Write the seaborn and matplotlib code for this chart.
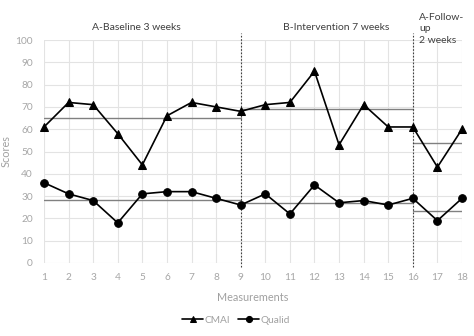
import numpy as np
import pandas as pd
import matplotlib
matplotlib.use("Agg")
import matplotlib.pyplot as plt
import seaborn as sns

# ---- data ----
measurements = list(range(1, 19))
cmai = [61, 72, 71, 58, 44, 66, 72, 70, 68, 71, 72, 86, 53, 71, 61, 61, 43, 60]
qualid = [36, 31, 28, 18, 31, 32, 32, 29, 26, 31, 22, 35, 27, 28, 26, 29, 19, 29]
phase_start = [1, 9, 16]
phase_end = [9, 16, 18]
cmai_phase_mean = [65, 69, 54]
qualid_phase_mean = [28.3, 26.8, 23.5]
phase_labels = ["A-Baseline 3 weeks", "B-Intervention 7 weeks", "A-Follow-\nup\n2 weeks"]
phase_breaks = [9, 16]

sns.set_theme(style="white")
plt.rcParams['font.family'] = ['Lato', 'DejaVu Sans']

fig = plt.figure(figsize=(4.74, 3.36), dpi=100)
ax = fig.add_axes([44/474, 1-263/336, (462-44)/474, (263-40)/336])

df = pd.DataFrame({
    "Measurements": measurements * 2,
    "Scores": cmai + qualid,
    "Series": ["CMAI"] * 18 + ["Qualid"] * 18,
})

sns.lineplot(data=df, x="Measurements", y="Scores", hue="Series", style="Series",
             markers={"CMAI": "^", "Qualid": "o"}, dashes=False,
             palette={"CMAI": "black", "Qualid": "black"},
             markersize=5.5, linewidth=1.2, markeredgecolor="black", ax=ax, zorder=5,
             clip_on=False)

# phase mean lines
for s, e, m1, m2 in zip(phase_start, phase_end, cmai_phase_mean, qualid_phase_mean):
    ax.plot([s, e], [m1, m1], color="#808080", lw=1.0, zorder=3)
    ax.plot([s, e], [m2, m2], color="#808080", lw=1.0, zorder=3)

# phase breaks
for b in phase_breaks:
    ax.axvline(b, ymin=-0.02, ymax=1.03, color="#404040", lw=0.8,
               linestyle=(0, (1.5, 1.5)), clip_on=False, zorder=4)

ax.set_xlim(1, 18)
ax.set_ylim(0, 100)
ax.set_xticks(measurements)
ax.set_yticks(range(0, 101, 10))
ax.grid(True, color="#e3e3e3", lw=0.8)
for sp in ax.spines.values():
    sp.set_visible(False)
ax.tick_params(axis="both", colors="#a6a6a6", labelsize=7.3, length=0)
ax.tick_params(axis="y", pad=8)
ax.tick_params(axis="x", pad=7)
ax.set_xlabel("Measurements", color="#a0a0a0", fontsize=7.8)
ax.set_ylabel("Scores", color="#a0a0a0", fontsize=7.8)
ax.yaxis.set_label_coords(-0.077, 0.5)
ax.xaxis.set_label_coords(0.5, -0.13)

ax.text(4.76, 105.5, phase_labels[0], ha="center", va="center", fontsize=7.5, color="#404040")
ax.text(12.9, 105.5, phase_labels[1], ha="center", va="center", fontsize=7.5, color="#404040")
ax.text(16.26, 112.3, phase_labels[2], ha="left", va="top", fontsize=7.5, color="#404040",
        linespacing=1.4)

leg = ax.legend(loc="center", bbox_to_anchor=(0.46, -0.256), ncol=2, frameon=False,
                fontsize=7.3, handlelength=2.0, columnspacing=0.8, handletextpad=0.2,
                markerscale=0.8)
for t in leg.get_texts():
    t.set_color("#a0a0a0")
ax.set_title("")

fig.savefig("out.png", dpi=100)
